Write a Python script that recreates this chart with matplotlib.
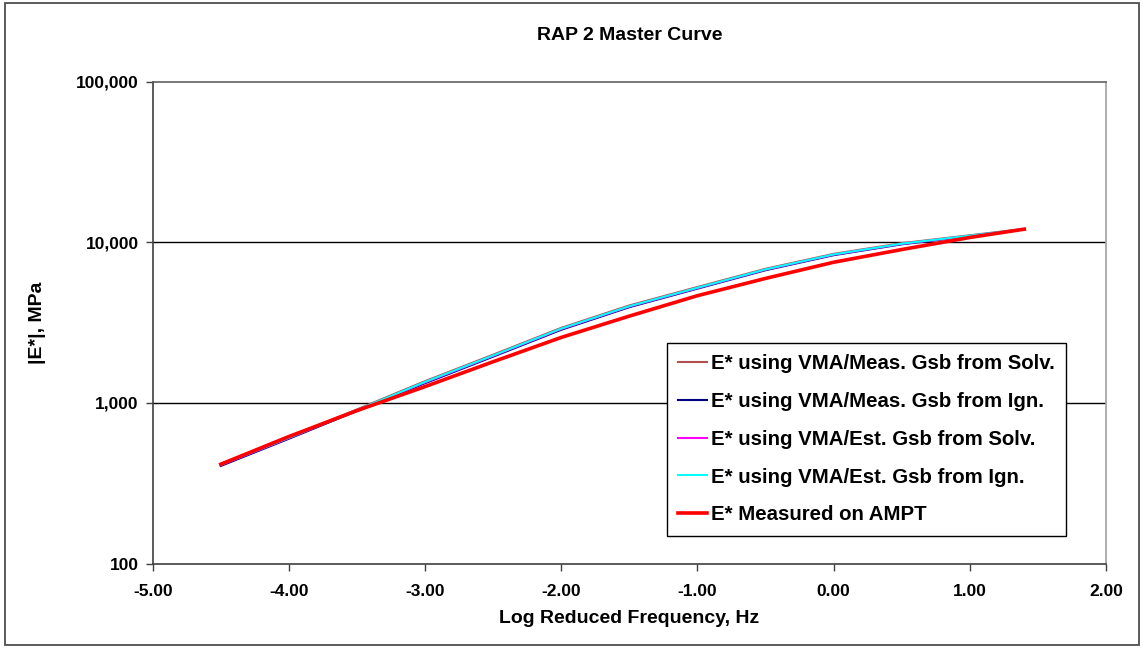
import matplotlib.pyplot as plt
import matplotlib.ticker as mticker
from matplotlib.patches import Rectangle

plt.rcParams['font.family'] = ['Liberation Sans', 'DejaVu Sans']
plt.rcParams['font.weight'] = 'bold'

# Log reduced frequency (Hz) at which each master curve is evaluated
log_freq = [-4.5, -4.0, -3.5, -3.0, -2.5, -2.0, -1.5, -1.0, -0.5, 0.0, 0.5, 1.0, 1.4]

# |E*| (MPa) from the four VMA-based predictions
e_meas_solv = [416, 612, 910, 1365, 1995, 2930, 4040, 5260, 6830, 8460, 9860, 11040, 12100]
e_meas_ign = [405, 598, 890, 1325, 1940, 2850, 3940, 5140, 6690, 8300, 9700, 10900, 12020]
e_est_solv = [410, 604, 898, 1340, 1960, 2880, 3975, 5180, 6740, 8360, 9760, 10950, 12050]
e_est_ign = [412, 607, 902, 1350, 1972, 2898, 3995, 5205, 6770, 8390, 9790, 10980, 12060]

# |E*| (MPa) measured on the AMPT
e_ampt = [415, 617, 895, 1262, 1803, 2554, 3467, 4645, 5950, 7500, 9000, 10700, 12050]

labels = ['E* using VMA/Meas. Gsb from Solv.',
          'E* using VMA/Meas. Gsb from Ign.',
          'E* using VMA/Est. Gsb from Solv.',
          'E* using VMA/Est. Gsb from Ign.',
          'E* Measured on AMPT']

fig = plt.figure(figsize=(11.44, 6.48), dpi=100)
ax = fig.add_axes([0.1335, 0.1304, 0.8333, 0.7438])

ax.plot(log_freq, e_meas_solv, color='#B05050', lw=1.5, label=labels[0])
ax.plot(log_freq, e_meas_ign, color='#000080', lw=1.5, label=labels[1])
ax.plot(log_freq, e_est_solv, color='#FF00FF', lw=1.5, label=labels[2])
ax.plot(log_freq, e_est_ign, color='#00FFFF', lw=1.5, label=labels[3])
ax.plot(log_freq, e_ampt, color='#FF0000', lw=2.6, label=labels[4])

ax.set_yscale('log')
ax.set_ylim(100, 100000)
ax.set_xlim(-5, 2)
ax.set_xticks([-5, -4, -3, -2, -1, 0, 1, 2])
ax.xaxis.set_major_formatter(mticker.FormatStrFormatter('%.2f'))
ax.yaxis.set_major_locator(mticker.FixedLocator([100, 1000, 10000, 100000]))
ax.yaxis.set_minor_locator(mticker.NullLocator())
ax.yaxis.set_major_formatter(mticker.FuncFormatter(lambda v, p: f'{int(v):,}'))

for v in [1000, 10000]:
    ax.axhline(v, color='black', lw=1.0, zorder=0.5)

ax.tick_params(axis='both', direction='out', length=5, width=1, color='#404040',
               labelsize=12.5)
ax.tick_params(axis='x', pad=10)
ax.tick_params(axis='y', pad=5)
for lab in ax.get_xticklabels() + ax.get_yticklabels():
    lab.set_fontweight('bold')

ax.spines['left'].set_color('#404040')
ax.spines['bottom'].set_color('#404040')
ax.spines['top'].set_color('#606060')
ax.spines['right'].set_color('#A0A0A0')
for s in ax.spines.values():
    s.set_linewidth(1.2)

ax.set_title('RAP 2 Master Curve', fontsize=14, fontweight='bold', pad=30)
ax.set_xlabel('Log Reduced Frequency, Hz', fontsize=14, fontweight='bold', labelpad=8)
ax.set_ylabel('|E*|, MPa', fontsize=14, fontweight='bold', labelpad=22)

leg = ax.legend(loc='upper left', bbox_to_anchor=(0.5395, 0.4575), borderaxespad=0,
                prop={'size': 14.7, 'weight': 'bold'}, fancybox=False, framealpha=1,
                edgecolor='black', handlelength=1.4, handletextpad=0.2,
                labelspacing=0.92, borderpad=0.55)
leg.get_frame().set_linewidth(1.0)

# outer chart border
fig.patches.append(Rectangle((0.004, 0.005), 0.992, 0.99, transform=fig.transFigure,
                             fill=False, edgecolor='#404040', lw=1.2))

fig.savefig('out.png', dpi=100)
